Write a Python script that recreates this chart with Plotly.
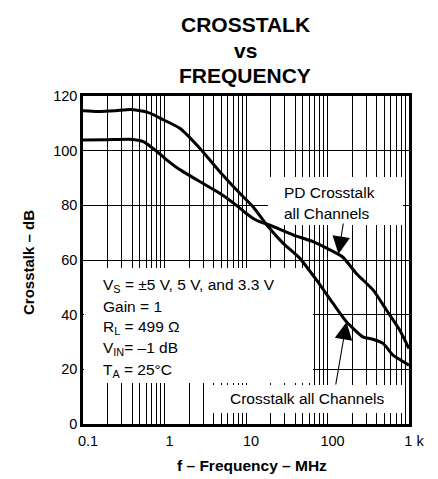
import plotly.graph_objects as go

# ---- data ----
freq_xtalk = [0.1, 0.15, 0.25, 0.38, 0.6, 0.75, 0.88, 1.54, 2.71, 4.77, 8.4, 12.2, 18, 28.6,
              45.8, 73.6, 117, 171, 271, 360, 481, 635, 771, 1000]
db_xtalk = [114.6, 114.3, 114.6, 115.1, 114.2, 113.0, 111.9, 108.2, 100.9, 92.3, 84.4, 79.5, 72.8,
            66.1, 60.6, 52.6, 44.1, 37.4, 31.9, 31.0, 29.5, 25.2, 23.6, 21.5]

freq_pd = [0.1, 0.2, 0.41, 0.55, 0.8, 1.0, 1.5, 2.71, 4.77, 8.4, 10.1, 12.0, 14.7, 19.4, 37.7,
           66.5, 152, 227, 366, 531, 771, 1000]
db_pd = [103.9, 104.0, 104.1, 103.3, 99.8, 97.3, 93.3, 88.7, 84.4, 79.0, 77.0, 75.4, 74.0, 72.8,
         69.2, 66.7, 61.2, 55.0, 48.9, 41.6, 34.3, 27.6]

x_major = [0.1, 1, 10, 100, 1000]
x_labels = ["0.1", "1", "10", "100", "1 k"]
x_minor = [m * 10 ** e for e in (-1, 0, 1, 2) for m in range(2, 10)]
y_ticks = [0, 20, 40, 60, 80, 100, 120]

FONT = "Liberation Sans, Arial, sans-serif"

# plot area in pixels
L, R, T, B = 83, 409, 96, 424
W, H = 438, 479


def px(x):
    return (x - L) / (R - L)


def py(y):
    return (B - y) / (B - T)


def dx(x):  # pixel -> data x (log axis 0.1..1000)
    return 10 ** (px(x) * 4 - 1)


def dy(y):  # pixel -> data y (0..120)
    return py(y) * 120


fig = go.Figure()

# white label boxes (drawn above the grid, below the curves)
for x0, y0, x1, y1 in ((84, 268, 313, 383), (268, 177, 403, 225), (212, 385, 403, 413)):
    fig.add_trace(go.Scatter(x=[dx(x0), dx(x1), dx(x1), dx(x0), dx(x0)],
                             y=[dy(y0), dy(y0), dy(y1), dy(y1), dy(y0)],
                             mode="lines", fill="toself", fillcolor="white",
                             line=dict(width=0, color="white"),
                             showlegend=False, hoverinfo="skip"))

for f, d in ((freq_xtalk, db_xtalk), (freq_pd, db_pd)):
    fig.add_trace(go.Scatter(x=f, y=d, mode="lines",
                             line=dict(color="black", width=3, shape="spline", smoothing=0.5),
                             showlegend=False, hoverinfo="skip"))

ann = []
# title
for txt, yc in (("CROSSTALK", 24), ("vs", 50), ("FREQUENCY", 76)):
    ann.append(dict(text=f"<b>{txt}</b>", xref="paper", yref="paper", x=px(245), y=py(yc),
                    xanchor="center", yanchor="middle", showarrow=False,
                    font=dict(family=FONT, size=21, color="black")))
# conditions
cond = ["V<sub>S</sub> = ±5 V, 5 V, and 3.3 V", "Gain = 1", "R<sub>L</sub> = 499 Ω",
        "V<sub>IN</sub>= –1 dB", "T<sub>A</sub> = 25°C"]
for i, t in enumerate(cond):
    ann.append(dict(text=t, xref="paper", yref="paper", x=px(101), y=py(285 + 21.3 * i),
                    xanchor="left", yanchor="middle", showarrow=False,
                    font=dict(family=FONT, size=15.5, color="black")))
for t, yc in (("PD Crosstalk", 192), ("all Channels", 213.5)):
    ann.append(dict(text=t, xref="paper", yref="paper", x=px(281.5), y=py(yc),
                    xanchor="left", yanchor="middle", showarrow=False,
                    font=dict(family=FONT, size=15.5, color="black")))
ann.append(dict(text="Crosstalk all Channels", xref="paper", yref="paper", x=px(306.5), y=py(398.5),
                xanchor="center", yanchor="middle", showarrow=False,
                font=dict(family=FONT, size=15.5, color="black")))
# arrows
for hx, hy, tx, ty in ((338.5, 254, 343.5, 222), (346.5, 322, 335.5, 386)):
    ann.append(dict(text="", xref="paper", yref="paper", x=px(hx), y=py(hy),
                    ax=tx - hx, ay=ty - hy, showarrow=True, arrowhead=2,
                    arrowsize=3.2, arrowwidth=1.1, arrowcolor="black", standoff=0))
# axis titles
ann.append(dict(text="<b>Crosstalk – dB</b>", xref="paper", yref="paper", x=px(28), y=py(263),
                xanchor="center", yanchor="middle", textangle=-90, showarrow=False,
                font=dict(family=FONT, size=15, color="black")))
ann.append(dict(text="<b>f – Frequency – MHz</b>", xref="paper", yref="paper", x=px(251.5), y=py(465),
                xanchor="center", yanchor="middle", showarrow=False,
                font=dict(family=FONT, size=15.5, color="black")))

fig.update_layout(
    width=W, height=H,
    margin=dict(l=L, r=W - R, t=T, b=H - B),
    paper_bgcolor="white", plot_bgcolor="white",
    annotations=ann,
    font=dict(family=FONT, size=14.5, color="black"),
    xaxis=dict(type="log", range=[-1, 3], tickvals=x_major, ticktext=x_labels,
               showgrid=True, gridcolor="black", gridwidth=1,
               minor=dict(tickvals=x_minor, showgrid=True, gridcolor="black", gridwidth=1,
                          ticks=""),
               showline=True, linecolor="black", linewidth=2.5, mirror=True,
               ticks="outside", ticklen=2, tickcolor="rgba(0,0,0,0)",
               ticklabelshift=5, zeroline=False, fixedrange=True),
    yaxis=dict(range=[0, 120], tickvals=y_ticks,
               showgrid=True, gridcolor="black", gridwidth=1,
               showline=True, linecolor="black", linewidth=2.5, mirror=True,
               ticks="", zeroline=False, fixedrange=True),
)

fig.write_html("out.html", config={"displayModeBar": False},
               post_script="document.body.style.margin='0';")
